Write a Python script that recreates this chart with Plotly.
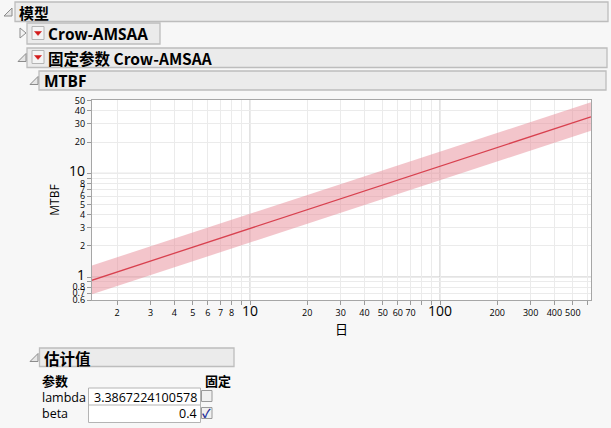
"""JMP-style Crow-AMSAA MTBF report, rebuilt with plotly."""

import plotly.graph_objects as go

# ── data ─────────────────────────────────────────────────────────────

DAYS = [1.47, 10, 100, 623]
MTBF = [0.93, 2.94, 11.7, 35.0]
MTBF_LOWER = [0.68, 2.15, 8.6, 25.7]
MTBF_UPPER = [1.29, 4.05, 16.0, 48.3]

X_TICKS = [2, 3, 4, 5, 6, 7, 8, 9, 10, 20, 30, 40, 50, 60, 70, 80, 90, 100, 200, 300, 400, 500, 600]
X_LABELS = ["2", "3", "4", "5", "6", "7", "8", "", "10", "20", "30", "40", "50", "60", "70", "", "",
            "100", "200", "300", "400", "500", ""]
Y_TICKS = [0.6, 0.7, 0.8, 0.9, 1, 2, 3, 4, 5, 6, 7, 8, 9, 10, 20, 30, 40, 50]
Y_LABELS = ["0.6", "0.7", "0.8", "", "1", "2", "3", "4", "5", "6", "7", "8", "", "10", "20", "30", "40", "50"]
MAJOR_X = [10, 100]
MAJOR_Y = [1, 10]

PARAMS = ["lambda", "beta"]
PARAM_VALUES = ["3.3867224100578", "0.4"]
PARAM_FIXED = [False, True]

# ── style ────────────────────────────────────────────────────────────

W, H = 611, 428
ML, MR, MT, MB = 92, 20, 100, 128
FONT = "Open Sans, Noto Sans CJK SC, sans-serif"
CJK = "Noto Sans CJK SC, sans-serif"
LINE = "#d8414f"
BAND = "rgba(232,140,152,0.5)"
BOX_FILL = "#ebebeb"
BOX_LINE = "#bdbdbd"


def px(x):
    return (x - ML) / (W - ML - MR)


def py(y):
    return (H - MB - y) / (H - MT - MB)


def big(s):
    return f'<span style="font-size:14px">{s}</span>' if s in ("1", "10", "100") else s


shapes = []
annotations = []


def rect(x0, y0, x1, y1, fill, line=BOX_LINE, width=1.3):
    shapes.append(dict(type="rect", xref="paper", yref="paper", x0=px(x0), x1=px(x1),
                       y0=py(y1), y1=py(y0), fillcolor=fill, line=dict(color=line, width=width)))


def poly(points, fill, line, width=1):
    path = "M " + " L ".join(f"{px(a)},{py(b)}" for a, b in points) + " Z"
    shapes.append(dict(type="path", xref="paper", yref="paper", path=path,
                       fillcolor=fill, line=dict(color=line, width=width)))


def label(x, y, text, size=13, bold=False, anchor="left", font=FONT, color="#000"):
    if bold:
        text = f"<b>{text}</b>"
    annotations.append(dict(x=px(x), y=py(y), xref="paper", yref="paper", text=text,
                            showarrow=False, xanchor=anchor, yanchor="middle",
                            font=dict(size=size, family=font, color=color)))


def open_tri(x, y):
    poly([(x + 7, y - 4), (x + 7, y + 4), (x - 1, y + 4)], "#e6e6e6", "#8c8c8c")


def red_button(x, y):
    rect(x, y - 7, x + 12, y + 6, "#f4f4f4", "#b4b4b4", 1)
    poly([(x + 2.5, y - 2), (x + 9.5, y - 2), (x + 6, y + 2)], "#d21a1a", "#d21a1a", 0.5)


# ── chart ────────────────────────────────────────────────────────────

fig = go.Figure()
fig.add_trace(go.Scatter(x=DAYS, y=MTBF_LOWER, mode="lines", line=dict(width=0),
                         hoverinfo="skip", showlegend=False))
fig.add_trace(go.Scatter(x=DAYS, y=MTBF_UPPER, mode="lines", line=dict(width=0),
                         fill="tonexty", fillcolor=BAND, hoverinfo="skip", showlegend=False))
fig.add_trace(go.Scatter(x=DAYS, y=MTBF, mode="lines", line=dict(color=LINE, width=1.3),
                         showlegend=False))

for v in MAJOR_X:
    shapes.append(dict(type="line", xref="x", yref="paper", x0=v, x1=v, y0=0, y1=1,
                       line=dict(color="#c6c6c6", width=1), layer="below"))
for v in MAJOR_Y:
    shapes.append(dict(type="line", xref="paper", yref="y", x0=0, x1=1, y0=v, y1=v,
                       line=dict(color="#c6c6c6", width=1), layer="below"))

# outline headers
rect(15, 2, 608, 21.5, BOX_FILL)
open_tri(5, 12)
label(17, 12, "模型", 15, True, font=CJK)

rect(27, 23, 160, 44, BOX_FILL)
poly([(20, 28), (26, 33), (20, 38)], "#f2f2f2", "#8c8c8c")
red_button(32, 33.5)
label(46, 33.5, "Crow-AMSAA", 15.5, True)

rect(27, 48, 607, 67.5, BOX_FILL)
open_tri(19, 57.5)
red_button(32, 57.5)
label(46, 57.5, "固定参数 Crow-AMSAA", 15.5, True, font=CJK)

rect(39, 71, 606, 90, BOX_FILL)
open_tri(31, 80.5)
label(42, 80.5, "MTBF", 15.5, True)

rect(39.5, 348, 234, 366.5, BOX_FILL)
open_tri(31, 357.5)
label(42, 357.5, "估计值", 15.5, True, font=CJK)

# parameter table
label(40, 380, "参数", 13, True, font=CJK)
label(203, 380, "固定", 13, True, font=CJK)
row_y = [397, 414]
for name, val, fixed, y in zip(PARAMS, PARAM_VALUES, PARAM_FIXED, row_y):
    label(40, y, name, 12.5)
    rect(88.5, y - 9, 200.5, y + 8.5, "#ffffff", "#b4b4b4", 1)
    label(199, y, val, 12.5, anchor="right")
    rect(201.5, y - 6.5, 212, y + 4.5, "#f0f0f0", "#9a9a9a", 1)
    if fixed:
        label(206.5, y - 1, "✓", 12, True, anchor="center", color="#23309a")

fig.update_layout(
    width=W,
    height=H,
    margin=dict(l=ML, r=MR, t=MT, b=MB),
    paper_bgcolor="#f7f7f7",
    plot_bgcolor="#ffffff",
    font=dict(family=FONT, color="#000"),
    shapes=shapes,
    annotations=annotations,
    xaxis=dict(
        type="log",
        range=[0.1684, 2.7947],
        tickvals=X_TICKS,
        ticktext=[big(s) for s in X_LABELS],
        tickfont=dict(size=9),
        ticks="outside",
        ticklen=4,
        tickcolor="#9a9a9a",
        showgrid=True,
        gridcolor="#ebebeb",
        showline=True,
        linecolor="#a6a6a6",
        linewidth=1.3,
        mirror=True,
        zeroline=False,
        title=dict(text="日", font=dict(size=13, family=CJK), standoff=4),
    ),
    yaxis=dict(
        type="log",
        range=[-0.2218, 1.7068],
        tickvals=Y_TICKS,
        ticktext=[big(s) for s in Y_LABELS],
        tickfont=dict(size=9),
        ticks="outside",
        ticklen=4,
        tickcolor="#9a9a9a",
        showgrid=True,
        gridcolor="#ebebeb",
        showline=True,
        linecolor="#a6a6a6",
        linewidth=1.3,
        mirror=True,
        zeroline=False,
        title=dict(text="MTBF", font=dict(size=12), standoff=6),
    ),
)

# the page body keeps its default 8px margin otherwise
fig.write_html(
    "out.html",
    config={"displayModeBar": False},
    post_script="document.body.style.margin='0';",
)
